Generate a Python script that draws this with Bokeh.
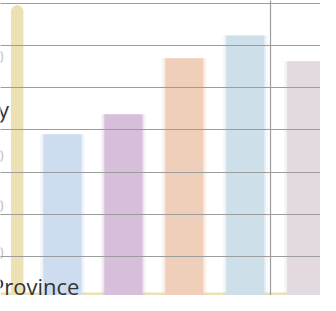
from bokeh.plotting import figure
from bokeh.models import Range1d, FixedTicker, Span, Label, ColumnDataSource
from bokeh.core.properties import value
from bokeh.embed import file_html
from bokeh.resources import INLINE

# ---- data ----
categories = ["A", "B", "C", "D", "E"]
values = [39.0, 43.7, 57.0, 62.4, 56.3]
colors = ["#cddcef", "#d7bfdb", "#f0cfba", "#cddfe8", "#e3d9e1"]
grid_values = [10, 20, 30, 40, 50, 60, 70]
tick_labels = ["60", "40", "30", "20"]
tick_label_pos = [57.2, 33.8, 22.1, 10.9]
x_title = "Province"
y_title = "Country"

W, H = 320, 295
x_idx = list(range(len(categories)))

p = figure(width=W, height=H, output_backend="svg", toolbar_location=None,
           x_range=Range1d(-1.0156, 4.234), y_range=Range1d(0.787, 70.67),
           min_border=0, min_border_left=0, min_border_right=0,
           min_border_top=0, min_border_bottom=0)
p.outline_line_color = None
p.xaxis.visible = False
p.yaxis.visible = False
p.background_fill_color = "white"
p.border_fill_color = "white"

p.ygrid.ticker = FixedTicker(ticks=grid_values)
p.ygrid.grid_line_color = "#9c9c9c"
p.ygrid.grid_line_width = 1.2
p.ygrid.level = "overlay"
p.xgrid.ticker = FixedTicker(ticks=[3.406])
p.xgrid.grid_line_color = "#9c9c9c"
p.xgrid.grid_line_width = 1.2
p.xgrid.level = "overlay"

p.add_layout(Span(location=0.787, dimension="width", line_color="#ece1b4",
                  line_width=6, level="underlay"))

src = ColumnDataSource(dict(x=x_idx, top=values, color=colors))
p.vbar(x="x", top="top", width=0.74, bottom=0, source=src, fill_color="color",
       fill_alpha=0.18, line_color=None)
p.vbar(x="x", top="top", width=0.68, bottom=0, source=src, fill_color="color",
       fill_alpha=0.3, line_color=None)
p.vbar(x="x", top="top", width=0.625, bottom=0, source=src, fill_color="color",
       line_color=None)

p.segment(x0=[-0.742], y0=[68.1], x1=[-0.742], y1=[0.787], line_color="#ece1b4",
          line_width=12.5, line_cap="round")

tsrc = ColumnDataSource(dict(x=[-0.96] * len(tick_labels), y=tick_label_pos, t=tick_labels))
p.text(x="x", y="y", text="t", source=tsrc, text_align="right", text_baseline="middle",
       text_color="#c4c4c4", text_font=value("Open Sans"), text_font_size="16px")

p.add_layout(Label(x=-0.875, y=45.06, text=y_title, text_align="right",
                   text_baseline="alphabetic", text_color="#333333",
                   text_font="Open Sans", text_font_size="22px"))
p.add_layout(Label(x=-1.17, y=3.03, text=x_title, text_align="left",
                   text_baseline="alphabetic", text_color="#333333",
                   text_font="Open Sans", text_font_size="22px"))

open("out.html", "w").write(file_html(p, INLINE))
